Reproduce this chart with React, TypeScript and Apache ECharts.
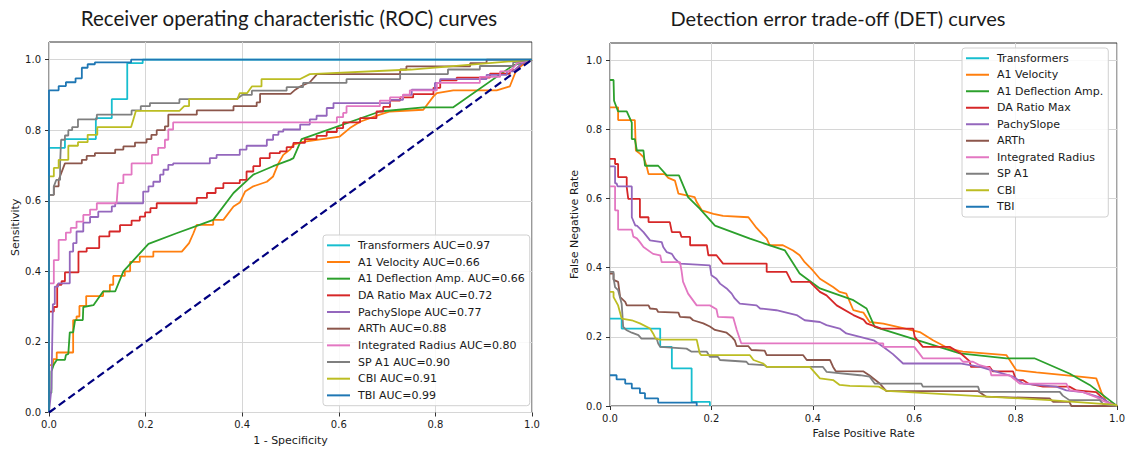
import React, { useEffect, useRef } from "react";
import * as echarts from "echarts";

// ---------- labels / styling data ----------
const methodNames = [
  "Transformers",
  "A1 Velocity",
  "A1 Deflection Amp.",
  "DA Ratio Max",
  "PachySlope",
  "ARTh",
  "Integrated Radius",
  "SP A1",
  "CBI",
  "TBI",
];
const aucValues = ["0.97", "0.66", "0.66", "0.72", "0.77", "0.88", "0.80", "0.90", "0.91", "0.99"];
const colors = [
  "#17becf",
  "#ff7f0e",
  "#2ca02c",
  "#d62728",
  "#9467bd",
  "#8c564b",
  "#e377c2",
  "#7f7f7f",
  "#bcbd22",
  "#1f77b4",
];
const xTicks = [0, 0.2, 0.4, 0.6, 0.8, 1.0];
const yTicks = [0, 0.2, 0.4, 0.6, 0.8, 1.0];
const chanceLine = [
  [0, 0],
  [1, 1],
];

// ---------- ROC curves (1 - specificity, sensitivity) ----------
const rocTransformers = [[0,0],[0,0.75],[0.033,0.75],[0.033,0.775],[0.097,0.775],[0.097,0.834],[0.13,0.834],[0.13,0.888],[0.162,0.888],[0.162,0.99],[0.194,0.99],[0.194,1],[1,1]];
const rocA1Velocity = [[0,0],[0,0.134],[0.009,0.134],[0.009,0.151],[0.016,0.151],[0.016,0.17],[0.05,0.17],[0.05,0.262],[0.057,0.262],[0.057,0.272],[0.063,0.272],[0.063,0.302],[0.077,0.302],[0.077,0.33],[0.112,0.33],[0.112,0.343],[0.126,0.343],[0.126,0.362],[0.133,0.362],[0.133,0.387],[0.157,0.387],[0.157,0.4],[0.168,0.4],[0.168,0.427],[0.188,0.427],[0.188,0.442],[0.216,0.442],[0.216,0.456],[0.275,0.456],[0.29,0.48],[0.299,0.508],[0.306,0.532],[0.34,0.532],[0.34,0.546],[0.361,0.546],[0.382,0.584],[0.395,0.595],[0.406,0.626],[0.423,0.641],[0.451,0.654],[0.464,0.669],[0.475,0.706],[0.485,0.73],[0.499,0.745],[0.506,0.759],[0.526,0.767],[0.602,0.782],[0.623,0.806],[0.644,0.824],[0.685,0.844],[0.706,0.853],[0.775,0.858],[0.796,0.896],[0.803,0.905],[0.837,0.913],[0.927,0.913],[0.954,0.924],[0.968,0.972],[0.985,0.99],[1,1]];
const rocA1Deflection = [[0,0],[0,0.056],[0.005,0.056],[0.005,0.116],[0.01,0.136],[0.016,0.149],[0.033,0.149],[0.035,0.163],[0.04,0.166],[0.043,0.227],[0.05,0.227],[0.054,0.262],[0.07,0.262],[0.071,0.299],[0.092,0.304],[0.112,0.343],[0.137,0.343],[0.154,0.4],[0.206,0.478],[0.264,0.508],[0.316,0.534],[0.34,0.546],[0.382,0.622],[0.423,0.674],[0.464,0.698],[0.499,0.716],[0.506,0.721],[0.523,0.775],[0.685,0.853],[0.775,0.865],[0.837,0.865],[0.961,0.984],[1,1]];
const rocDARatio = [[0,0],[0,0.286],[0.01,0.286],[0.01,0.299],[0.017,0.299],[0.017,0.362],[0.026,0.362],[0.026,0.372],[0.033,0.372],[0.033,0.397],[0.061,0.397],[0.061,0.456],[0.078,0.456],[0.078,0.466],[0.104,0.466],[0.104,0.499],[0.125,0.499],[0.125,0.513],[0.147,0.513],[0.147,0.531],[0.171,0.531],[0.171,0.544],[0.188,0.544],[0.188,0.555],[0.199,0.555],[0.199,0.567],[0.21,0.567],[0.21,0.579],[0.223,0.579],[0.223,0.593],[0.306,0.593],[0.306,0.608],[0.327,0.608],[0.327,0.622],[0.345,0.622],[0.345,0.636],[0.361,0.636],[0.361,0.65],[0.395,0.65],[0.395,0.659],[0.409,0.659],[0.409,0.683],[0.423,0.683],[0.423,0.698],[0.437,0.698],[0.437,0.721],[0.457,0.721],[0.457,0.735],[0.478,0.735],[0.478,0.74],[0.492,0.74],[0.492,0.752],[0.506,0.752],[0.506,0.764],[0.53,0.764],[0.53,0.775],[0.554,0.775],[0.554,0.784],[0.575,0.784],[0.575,0.795],[0.596,0.795],[0.596,0.806],[0.609,0.806],[0.609,0.822],[0.644,0.822],[0.644,0.834],[0.678,0.834],[0.678,0.853],[0.692,0.853],[0.692,0.866],[0.706,0.866],[0.706,0.884],[0.727,0.884],[0.727,0.893],[0.754,0.893],[0.754,0.902],[0.796,0.902],[0.796,0.92],[0.81,0.92],[0.81,0.941],[0.844,0.941],[0.844,0.949],[0.913,0.949],[0.913,0.96],[0.954,0.96],[0.954,0.97],[0.965,0.97],[0.98,0.99],[1,1]];
const rocPachySlope = [[0,0],[0.005,0.068],[0.008,0.307],[0.012,0.307],[0.012,0.357],[0.019,0.357],[0.019,0.366],[0.043,0.366],[0.043,0.456],[0.05,0.456],[0.05,0.48],[0.057,0.48],[0.057,0.513],[0.071,0.513],[0.071,0.538],[0.085,0.538],[0.085,0.554],[0.102,0.554],[0.102,0.569],[0.13,0.569],[0.13,0.584],[0.137,0.584],[0.137,0.593],[0.195,0.593],[0.195,0.626],[0.206,0.626],[0.206,0.641],[0.216,0.641],[0.216,0.654],[0.23,0.654],[0.23,0.674],[0.237,0.674],[0.237,0.688],[0.247,0.688],[0.247,0.702],[0.257,0.702],[0.257,0.706],[0.333,0.706],[0.333,0.721],[0.347,0.721],[0.347,0.73],[0.395,0.73],[0.395,0.745],[0.409,0.745],[0.409,0.756],[0.451,0.756],[0.451,0.773],[0.464,0.773],[0.464,0.787],[0.475,0.787],[0.475,0.796],[0.485,0.796],[0.485,0.802],[0.52,0.802],[0.52,0.816],[0.54,0.816],[0.54,0.831],[0.554,0.831],[0.554,0.841],[0.575,0.841],[0.575,0.863],[0.589,0.863],[0.589,0.877],[0.706,0.877],[0.706,0.886],[0.733,0.886],[0.733,0.9],[0.751,0.9],[0.751,0.915],[0.799,0.915],[0.799,0.934],[0.81,0.934],[0.81,0.945],[0.906,0.945],[0.906,0.957],[0.948,0.957],[0.948,0.967],[0.961,0.967],[0.98,0.99],[1,1]];
const rocARTh = [[0,0],[0,0.617],[0.01,0.617],[0.01,0.641],[0.02,0.641],[0.02,0.659],[0.033,0.706],[0.068,0.706],[0.068,0.716],[0.078,0.716],[0.078,0.727],[0.095,0.727],[0.095,0.735],[0.137,0.735],[0.137,0.745],[0.154,0.745],[0.154,0.754],[0.178,0.754],[0.178,0.765],[0.202,0.765],[0.202,0.775],[0.212,0.775],[0.212,0.787],[0.223,0.787],[0.223,0.8],[0.24,0.8],[0.24,0.811],[0.247,0.811],[0.247,0.844],[0.306,0.844],[0.306,0.856],[0.382,0.856],[0.382,0.868],[0.43,0.868],[0.43,0.879],[0.437,0.879],[0.437,0.903],[0.5,0.903],[0.51,0.915],[0.52,0.924],[0.54,0.936],[0.555,0.959],[0.727,0.959],[0.727,0.972],[0.74,0.972],[0.74,0.981],[0.872,0.981],[0.872,0.99],[0.906,0.99],[0.906,1],[1,1]];
const rocIntegratedRadius = [[0,0],[0,0.366],[0.01,0.366],[0.01,0.432],[0.02,0.432],[0.02,0.489],[0.035,0.489],[0.035,0.51],[0.045,0.51],[0.045,0.523],[0.057,0.523],[0.057,0.541],[0.071,0.541],[0.071,0.56],[0.085,0.56],[0.085,0.575],[0.099,0.575],[0.099,0.593],[0.14,0.593],[0.143,0.65],[0.154,0.65],[0.154,0.674],[0.171,0.674],[0.171,0.706],[0.213,0.706],[0.213,0.73],[0.226,0.73],[0.226,0.75],[0.24,0.75],[0.24,0.773],[0.247,0.773],[0.247,0.802],[0.257,0.802],[0.257,0.822],[0.596,0.822],[0.596,0.837],[0.609,0.837],[0.609,0.849],[0.616,0.849],[0.616,0.868],[0.685,0.868],[0.685,0.884],[0.706,0.884],[0.706,0.893],[0.733,0.893],[0.733,0.901],[0.747,0.901],[0.747,0.913],[0.803,0.913],[0.803,0.934],[0.892,0.934],[0.892,0.951],[0.934,0.951],[0.934,0.967],[0.954,0.967],[0.97,0.99],[1,1]];
const rocSPA1 = [[0,0],[0,0.617],[0.01,0.617],[0.01,0.641],[0.015,0.659],[0.023,0.659],[0.023,0.706],[0.025,0.773],[0.033,0.773],[0.033,0.785],[0.04,0.785],[0.04,0.8],[0.048,0.8],[0.048,0.809],[0.06,0.809],[0.06,0.831],[0.099,0.831],[0.099,0.844],[0.171,0.844],[0.171,0.856],[0.19,0.856],[0.19,0.868],[0.209,0.868],[0.209,0.877],[0.27,0.877],[0.27,0.888],[0.388,0.888],[0.4,0.9],[0.42,0.9],[0.42,0.912],[0.492,0.912],[0.492,0.922],[0.526,0.922],[0.526,0.934],[0.616,0.934],[0.616,0.945],[0.727,0.945],[0.727,0.959],[0.826,0.959],[0.826,0.972],[0.892,0.972],[0.892,0.982],[0.961,0.982],[0.961,0.992],[1,1]];
const rocCBI = [[0,0],[0,0.669],[0.01,0.669],[0.01,0.693],[0.02,0.693],[0.02,0.716],[0.04,0.716],[0.04,0.756],[0.06,0.756],[0.06,0.766],[0.08,0.766],[0.08,0.787],[0.1,0.787],[0.1,0.809],[0.17,0.809],[0.175,0.832],[0.18,0.855],[0.27,0.855],[0.28,0.868],[0.29,0.868],[0.29,0.888],[0.39,0.888],[0.395,0.905],[0.41,0.905],[0.42,0.924],[0.44,0.924],[0.44,0.945],[0.52,0.945],[0.54,0.959],[0.75,0.972],[1,1]];
const rocTBI = [[0,0],[0,0.913],[0.02,0.913],[0.02,0.925],[0.035,0.925],[0.035,0.936],[0.055,0.936],[0.055,0.947],[0.068,0.947],[0.068,0.977],[0.08,0.977],[0.08,0.987],[0.095,0.987],[0.095,0.992],[0.17,0.992],[0.17,1],[1,1]];

// ---------- DET curves (false positive rate, false negative rate) ----------
const detTransformers = [[0,0.253],[0.023,0.253],[0.023,0.224],[0.099,0.224],[0.099,0.171],[0.122,0.171],[0.122,0.109],[0.161,0.109],[0.161,0.012],[0.197,0.012],[0.197,0]];
const detA1Velocity = [[0,0.864],[0.016,0.864],[0.016,0.827],[0.049,0.827],[0.051,0.739],[0.059,0.73],[0.066,0.72],[0.072,0.695],[0.076,0.671],[0.108,0.671],[0.115,0.66],[0.128,0.652],[0.135,0.614],[0.167,0.604],[0.171,0.59],[0.181,0.566],[0.204,0.556],[0.223,0.55],[0.273,0.546],[0.289,0.515],[0.309,0.484],[0.315,0.465],[0.341,0.465],[0.361,0.45],[0.374,0.436],[0.384,0.416],[0.4,0.392],[0.414,0.368],[0.44,0.344],[0.453,0.33],[0.466,0.325],[0.48,0.277],[0.493,0.272],[0.5,0.27],[0.512,0.243],[0.539,0.238],[0.578,0.225],[0.611,0.214],[0.637,0.19],[0.67,0.165],[0.696,0.157],[0.782,0.147],[0.801,0.104],[0.841,0.097],[0.926,0.085],[0.959,0.08],[0.969,0.04],[0.979,0.013],[1,0]];
const detA1Deflection = [[0,0.943],[0.007,0.943],[0.008,0.883],[0.016,0.852],[0.033,0.852],[0.043,0.82],[0.043,0.772],[0.049,0.772],[0.053,0.739],[0.066,0.739],[0.069,0.695],[0.095,0.695],[0.112,0.667],[0.136,0.667],[0.154,0.604],[0.177,0.571],[0.207,0.522],[0.276,0.484],[0.345,0.45],[0.374,0.383],[0.414,0.34],[0.48,0.306],[0.506,0.282],[0.522,0.229],[0.69,0.152],[0.782,0.138],[0.837,0.138],[0.906,0.094],[0.946,0.061],[0.985,0.017],[1,0]];
const detDARatio = [[0,0.715],[0.01,0.715],[0.01,0.7],[0.016,0.7],[0.016,0.662],[0.033,0.662],[0.033,0.633],[0.036,0.599],[0.059,0.599],[0.059,0.546],[0.076,0.546],[0.076,0.532],[0.118,0.532],[0.122,0.503],[0.138,0.503],[0.141,0.489],[0.158,0.489],[0.158,0.465],[0.191,0.465],[0.194,0.436],[0.21,0.436],[0.223,0.412],[0.309,0.412],[0.309,0.388],[0.348,0.388],[0.358,0.359],[0.394,0.359],[0.414,0.33],[0.427,0.32],[0.447,0.291],[0.48,0.263],[0.5,0.25],[0.506,0.239],[0.535,0.224],[0.598,0.224],[0.601,0.2],[0.617,0.171],[0.67,0.171],[0.692,0.152],[0.709,0.13],[0.712,0.113],[0.749,0.113],[0.755,0.1],[0.795,0.1],[0.801,0.075],[0.814,0.075],[0.825,0.065],[0.854,0.056],[0.906,0.056],[0.92,0.045],[0.959,0.04],[0.972,0.022],[0.982,0.01],[1,0]];
const detPachySlope = [[0,0.693],[0.01,0.693],[0.01,0.644],[0.013,0.644],[0.015,0.635],[0.043,0.635],[0.043,0.546],[0.05,0.522],[0.053,0.522],[0.066,0.503],[0.079,0.479],[0.102,0.474],[0.105,0.46],[0.112,0.445],[0.122,0.44],[0.128,0.426],[0.135,0.416],[0.138,0.412],[0.197,0.407],[0.2,0.378],[0.21,0.368],[0.217,0.354],[0.23,0.34],[0.24,0.325],[0.246,0.311],[0.256,0.296],[0.289,0.291],[0.296,0.282],[0.328,0.277],[0.368,0.263],[0.384,0.248],[0.414,0.243],[0.427,0.234],[0.453,0.224],[0.466,0.21],[0.493,0.2],[0.52,0.19],[0.54,0.17],[0.558,0.15],[0.578,0.123],[0.69,0.123],[0.73,0.113],[0.76,0.1],[0.795,0.085],[0.815,0.065],[0.88,0.056],[0.9,0.045],[0.933,0.04],[0.972,0.022],[0.985,0.008],[1,0]];
const detARTh = [[0,0.383],[0.007,0.383],[0.007,0.365],[0.016,0.359],[0.02,0.315],[0.03,0.301],[0.033,0.291],[0.076,0.291],[0.079,0.282],[0.092,0.28],[0.095,0.272],[0.135,0.27],[0.138,0.258],[0.158,0.256],[0.164,0.248],[0.184,0.239],[0.197,0.23],[0.207,0.22],[0.23,0.212],[0.24,0.2],[0.246,0.19],[0.25,0.173],[0.273,0.173],[0.279,0.162],[0.305,0.16],[0.309,0.147],[0.381,0.147],[0.388,0.133],[0.434,0.133],[0.44,0.113],[0.445,0.101],[0.5,0.1],[0.512,0.088],[0.52,0.079],[0.532,0.065],[0.545,0.043],[0.726,0.043],[0.742,0.027],[0.867,0.022],[0.874,0.012],[0.906,0.012],[0.91,0],[1,0]];
const detIntegratedRadius = [[0,0.635],[0.01,0.635],[0.01,0.566],[0.016,0.566],[0.016,0.51],[0.043,0.51],[0.046,0.49],[0.053,0.485],[0.059,0.474],[0.066,0.46],[0.085,0.44],[0.099,0.436],[0.102,0.416],[0.138,0.416],[0.141,0.392],[0.144,0.36],[0.154,0.325],[0.171,0.291],[0.197,0.291],[0.21,0.28],[0.213,0.258],[0.243,0.256],[0.25,0.22],[0.259,0.181],[0.539,0.181],[0.539,0.171],[0.6,0.171],[0.611,0.15],[0.617,0.138],[0.69,0.138],[0.696,0.128],[0.716,0.128],[0.729,0.118],[0.749,0.11],[0.752,0.089],[0.788,0.089],[0.808,0.065],[0.9,0.065],[0.906,0.046],[0.933,0.04],[0.96,0.025],[0.972,0.015],[1,0]];
const detSPA1 = [[0,0.388],[0.007,0.388],[0.007,0.369],[0.01,0.344],[0.016,0.335],[0.023,0.296],[0.026,0.229],[0.033,0.219],[0.043,0.212],[0.056,0.205],[0.062,0.195],[0.092,0.195],[0.095,0.181],[0.099,0.171],[0.151,0.166],[0.161,0.157],[0.191,0.157],[0.197,0.142],[0.213,0.142],[0.217,0.133],[0.269,0.128],[0.273,0.121],[0.305,0.118],[0.309,0.113],[0.42,0.113],[0.427,0.099],[0.493,0.089],[0.512,0.085],[0.522,0.065],[0.614,0.065],[0.617,0.056],[0.726,0.056],[0.729,0.041],[0.887,0.041],[0.893,0.03],[0.906,0.017],[0.966,0.017],[0.972,0.006],[1,0]];
const detCBI = [[0,0.33],[0.007,0.33],[0.007,0.315],[0.016,0.291],[0.023,0.253],[0.043,0.248],[0.059,0.239],[0.079,0.224],[0.085,0.21],[0.09,0.195],[0.099,0.192],[0.171,0.192],[0.177,0.152],[0.18,0.147],[0.276,0.147],[0.283,0.133],[0.302,0.123],[0.309,0.113],[0.394,0.113],[0.414,0.08],[0.44,0.075],[0.453,0.061],[0.473,0.058],[0.53,0.056],[0.545,0.044],[0.867,0.017],[0.998,0.003],[1,0]];
const detTBI = [[0,0.089],[0.013,0.089],[0.013,0.077],[0.03,0.077],[0.03,0.065],[0.043,0.065],[0.043,0.051],[0.059,0.051],[0.059,0.037],[0.069,0.037],[0.069,0.022],[0.095,0.022],[0.095,0.01],[0.171,0.01],[0.171,0]];

const rocCurves = [rocTransformers, rocA1Velocity, rocA1Deflection, rocDARatio, rocPachySlope, rocARTh, rocIntegratedRadius, rocSPA1, rocCBI, rocTBI];
const detCurves = [detTransformers, detA1Velocity, detA1Deflection, detDARatio, detPachySlope, detARTh, detIntegratedRadius, detSPA1, detCBI, detTBI];

const FONT = "DejaVu Sans";
const TEXT_COLOR = "#1a1a1a";

function makeXAxis(gridIndex: number, name: string) {
  return {
    type: "value",
    gridIndex,
    min: 0,
    max: 1,
    interval: 0.2,
    name,
    nameLocation: "middle",
    nameGap: 22,
    nameTextStyle: { fontFamily: FONT, fontSize: 11, color: TEXT_COLOR },
    axisLine: { show: false },
    axisTick: { show: true, inside: false, length: 4, customValues: xTicks, lineStyle: { color: "#333", width: 1 } },
    axisLabel: {
      margin: 7,
      fontFamily: FONT,
      fontSize: 10,
      color: TEXT_COLOR,
      customValues: xTicks,
      formatter: (v: number) => v.toFixed(1),
    },
    splitLine: { show: true, lineStyle: { color: "#d6d6d6", width: 1 } },
  };
}

function makeYAxis(gridIndex: number, name: string, gap: number) {
  return {
    type: "value",
    gridIndex,
    min: 0,
    max: 1.05,
    interval: 0.2,
    name,
    nameLocation: "middle",
    nameGap: gap,
    nameTextStyle: { fontFamily: FONT, fontSize: 11, color: TEXT_COLOR },
    axisLine: { show: false },
    axisTick: { show: true, inside: false, length: 4, customValues: yTicks, lineStyle: { color: "#333", width: 1 } },
    axisLabel: {
      margin: 8,
      fontFamily: FONT,
      fontSize: 10,
      color: TEXT_COLOR,
      customValues: yTicks,
      formatter: (v: number) => (v > 1.01 ? "" : v.toFixed(1)),
    },
    splitLine: { show: true, lineStyle: { color: "#d6d6d6", width: 1 } },
  };
}

function legendBox(names: string[], left: number, top: number, lineHeight: number) {
  return {
    data: names,
    orient: "vertical",
    left,
    top,
    icon: "rect",
    itemWidth: 23,
    itemHeight: 2,
    itemGap: 0,
    selectedMode: false,
    padding: [2, 5, 2, 4],
    backgroundColor: "rgba(255,255,255,0.85)",
    borderColor: "#d0d0d0",
    borderWidth: 1,
    borderRadius: 3,
    textStyle: { fontFamily: FONT, fontSize: 11, color: TEXT_COLOR, lineHeight, padding: [0, 0, 0, 3] },
  };
}

export default function App() {
  const ref = useRef<HTMLDivElement>(null);

  useEffect(() => {
    if (!ref.current) return;
    const chart = echarts.init(ref.current, null, { renderer: "svg" });

    const rocNames = methodNames.map((n, i) => `${n} AUC=${aucValues[i]}`);

    const rocSeries = rocCurves.map((data, i) => ({
      type: "line",
      name: rocNames[i],
      xAxisIndex: 0,
      yAxisIndex: 0,
      data,
      symbol: "none",
      showSymbol: false,
      lineStyle: { color: colors[i], width: 1.8 },
      itemStyle: { color: colors[i] },
      emphasis: { disabled: true },
    }));
    const detSeries = detCurves.map((data, i) => ({
      type: "line",
      name: methodNames[i],
      xAxisIndex: 1,
      yAxisIndex: 1,
      data,
      symbol: "none",
      showSymbol: false,
      lineStyle: { color: colors[i], width: 1.8 },
      itemStyle: { color: colors[i] },
      emphasis: { disabled: true },
    }));

    chart.setOption({
      animation: false,
      backgroundColor: "#ffffff",
      graphic: [
        {
          type: "text",
          x: 289,
          y: 18,
          style: {
            text: "Receiver operating characteristic (ROC) curves",
            align: "center",
            verticalAlign: "middle",
            fontFamily: "Lato",
            fontSize: 20.5,
            fill: "#1a1a1a",
          },
        },
        {
          type: "text",
          x: 838,
          y: 18,
          style: {
            text: "Detection error trade-off (DET) curves",
            align: "center",
            verticalAlign: "middle",
            fontFamily: "Lato",
            fontSize: 20,
            fill: "#1a1a1a",
          },
        },
      ],
      grid: [
        { left: 49, right: 596, top: 42, bottom: 38.5, show: true, borderColor: "#333", borderWidth: 1, containLabel: false },
        { left: 610, right: 10.5, top: 43, bottom: 45, show: true, borderColor: "#333", borderWidth: 1, containLabel: false },
      ],
      xAxis: [makeXAxis(0, "1 - Specificity"), makeXAxis(1, "False Positive Rate")],
      yAxis: [makeYAxis(0, "Sensitivity", 27), makeYAxis(1, "False Negative Rate", 30)],
      legend: [legendBox(rocNames, 323, 235, 16.67), legendBox(methodNames, 962, 48, 16.5)],
      series: [
        ...rocSeries,
        {
          type: "line",
          name: "chance",
          xAxisIndex: 0,
          yAxisIndex: 0,
          data: chanceLine,
          symbol: "none",
          showSymbol: false,
          lineStyle: { color: "#000080", width: 2.2, type: [8, 4] },
          emphasis: { disabled: true },
        },
        ...detSeries,
      ],
    });

    return () => chart.dispose();
  }, []);

  return <div ref={ref} style={{ position: "absolute", left: 0, top: 0, width: 1128, height: 451 }} />;
}
